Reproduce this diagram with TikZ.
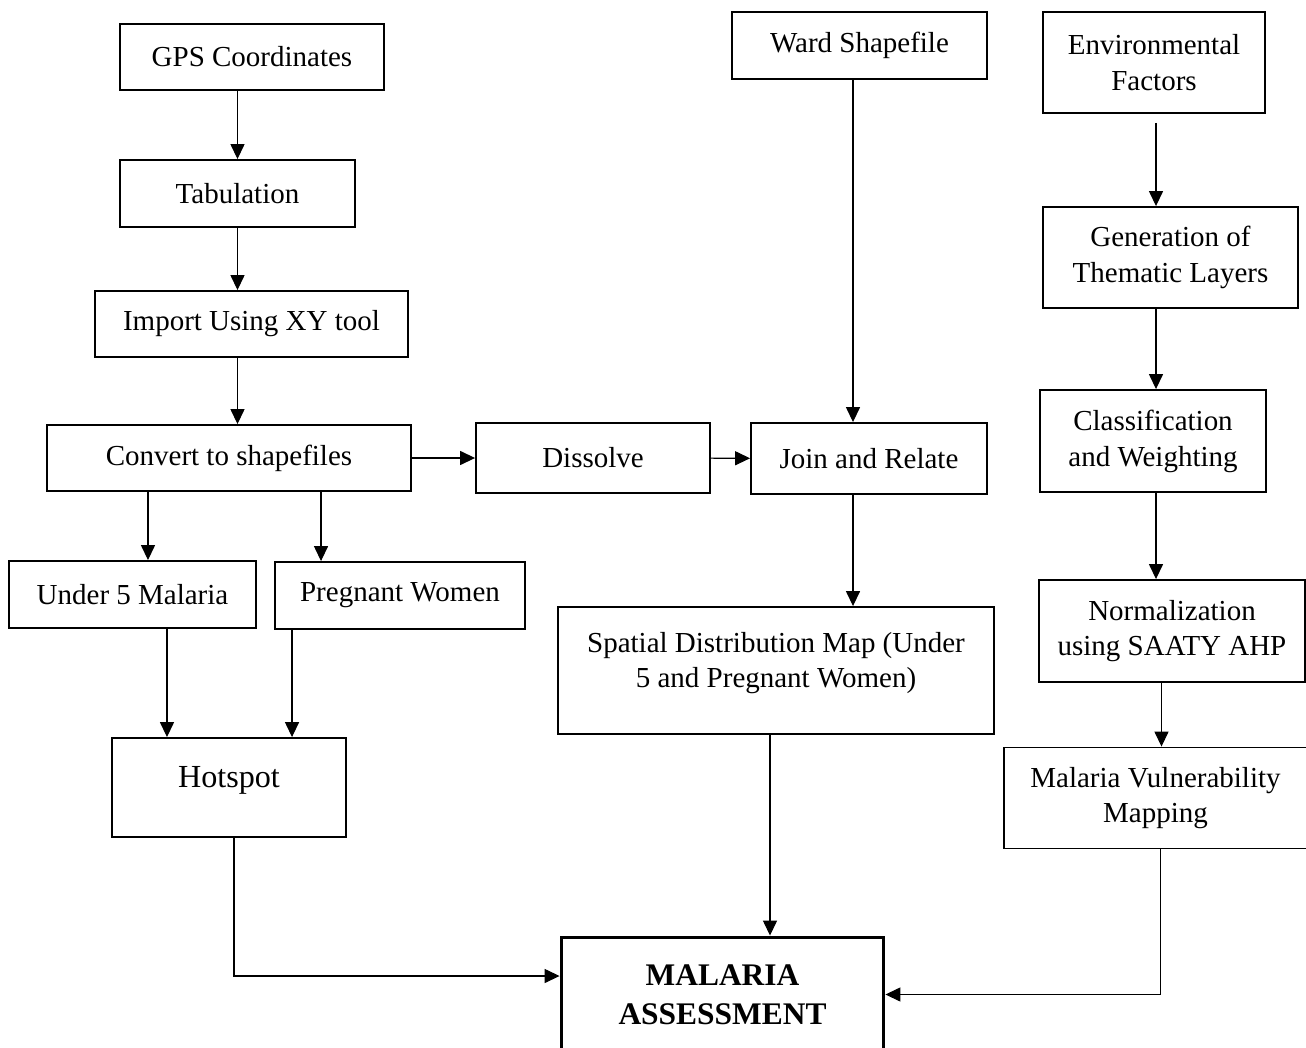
\documentclass[tikz,border=0pt]{standalone}
\usepackage{fontspec}
\setmainfont{Liberation Serif}
\usepackage{tikz}
\usetikzlibrary{arrows.meta, positioning, calc}

\begin{document}
\begin{tikzpicture}[x=0.02cm, y=-0.02cm,
  box/.style={draw, line width=1.1pt, align=center, inner sep=2pt,
    font=\fontsize{16.5}{20.4}\selectfont},
  lift/.style={text depth=0.42cm},
  arr/.style={-{Triangle[length=8.5pt,width=8pt]}, line width=0.6pt}]
\useasboundingbox (0,0) rectangle (1306,1048);

% Left column
\node[box, minimum width=5.28cm, minimum height=1.32cm] (gps) at (252,57) {GPS Coordinates};
\node[box, minimum width=4.7cm, minimum height=1.34cm] (tab) at (237.5,193.5) {Tabulation};
\node[box, minimum width=6.26cm, minimum height=1.32cm] (xy) at (251.5,324) {Import Using XY tool};
\node[box, minimum width=7.28cm, minimum height=1.32cm] (conv) at (229,458) {Convert to shapefiles};
\node[box, minimum width=4.94cm, minimum height=1.34cm] (u5) at (132.5,594.5) {Under 5 Malaria};
\node[box, minimum width=5cm, minimum height=1.34cm] (pw) at (400,595.5) {Pregnant Women};
\node[box, lift, minimum width=4.68cm, minimum height=1.98cm,
  font=\fontsize{18.3}{22}\selectfont] (hot) at (229,787.5) {Hotspot};

% Middle column
\node[box, minimum width=4.68cm, minimum height=1.4cm] (dis) at (593,458) {Dissolve};
\node[box, minimum width=5.1cm, minimum height=1.34cm] (ward) at (859.5,45.5) {Ward Shapefile};
\node[box, minimum width=4.72cm, minimum height=1.42cm] (join) at (869,458.5) {Join and Relate};
\node[box, lift, minimum width=8.72cm, minimum height=2.54cm] (sdm) at (776,670.5)
  {Spatial Distribution Map (Under\\5 and Pregnant Women)};

% Right column
\node[box, minimum width=4.44cm, minimum height=2.02cm] (env) at (1154,62.5) {Environmental\\Factors};
\node[box, minimum width=5.1cm, minimum height=2.02cm] (gen) at (1170.5,257.5) {Generation of\\Thematic Layers};
\node[box, minimum width=4.52cm, minimum height=2.04cm] (cls) at (1153,441) {Classification\\and Weighting};
\node[box, minimum width=5.32cm, minimum height=2.04cm] (norm) at (1172,631) {Normalization\\using SAATY AHP};
\node[box, minimum width=6.06cm, minimum height=2.02cm] (mvm) at (1155.5,798) {Malaria Vulnerability\\Mapping};

% Final output
\node[box, line width=1.7pt, minimum width=6.46cm, minimum height=2.3cm,
  font=\fontsize{17.9}{22.1}\selectfont\bfseries] (ma) at (722.5,994.5) {MALARIA\\ASSESSMENT};

% Connectors, left
\draw[arr] (tab.north |- gps.south) -- (tab.north);
\draw[arr] (tab.south) -- (tab.south |- xy.north);
\draw[arr] (tab.south |- xy.south) -- (tab.south |- conv.north);
\draw[arr] (conv) -- (dis);
\draw[arr] ([xshift=0.31cm]u5.north |- conv.south) -- ([xshift=0.31cm]u5.north);
\draw[arr] ([xshift=-1.58cm]pw.north |- conv.south) -- ([xshift=-1.58cm]pw.north);
\draw[arr] ([xshift=0.69cm]u5.south) -- ([xshift=0.69cm]u5.south |- hot.north);
\draw[arr] ([xshift=-2.16cm]pw.south) -- ([xshift=-2.16cm]pw.south |- hot.north);
\draw[arr] ([xshift=0.1cm]hot.south) |- ([yshift=0.37cm]ma.west);

% Connectors, middle
\draw[arr] (dis) -- (join);
\draw[arr] ([xshift=-0.13cm]ward.south) -- ([xshift=-0.13cm]ward.south |- join.north);
\draw[arr] ([xshift=-0.32cm]join.south) -- ([xshift=-0.32cm]join.south |- sdm.north);
\draw[arr] ([xshift=-0.12cm]sdm.south) -- ([xshift=-0.12cm]sdm.south |- ma.north);

% Connectors, right
\draw[arr] ([xshift=0.04cm,yshift=-0.18cm]env.south) -- ([xshift=0.04cm]env.south |- gen.north);
\draw[arr] ([xshift=0.06cm]cls.north |- gen.south) -- ([xshift=0.06cm]cls.north);
\draw[arr] ([xshift=0.06cm]cls.south) -- ([xshift=0.06cm]cls.south |- norm.north);
\draw[arr] ([xshift=0.12cm]mvm.north |- norm.south) -- ([xshift=0.12cm]mvm.north);
\draw[arr] ([xshift=0.1cm]mvm.south) |- (ma.east);
\end{tikzpicture}
\end{document}
